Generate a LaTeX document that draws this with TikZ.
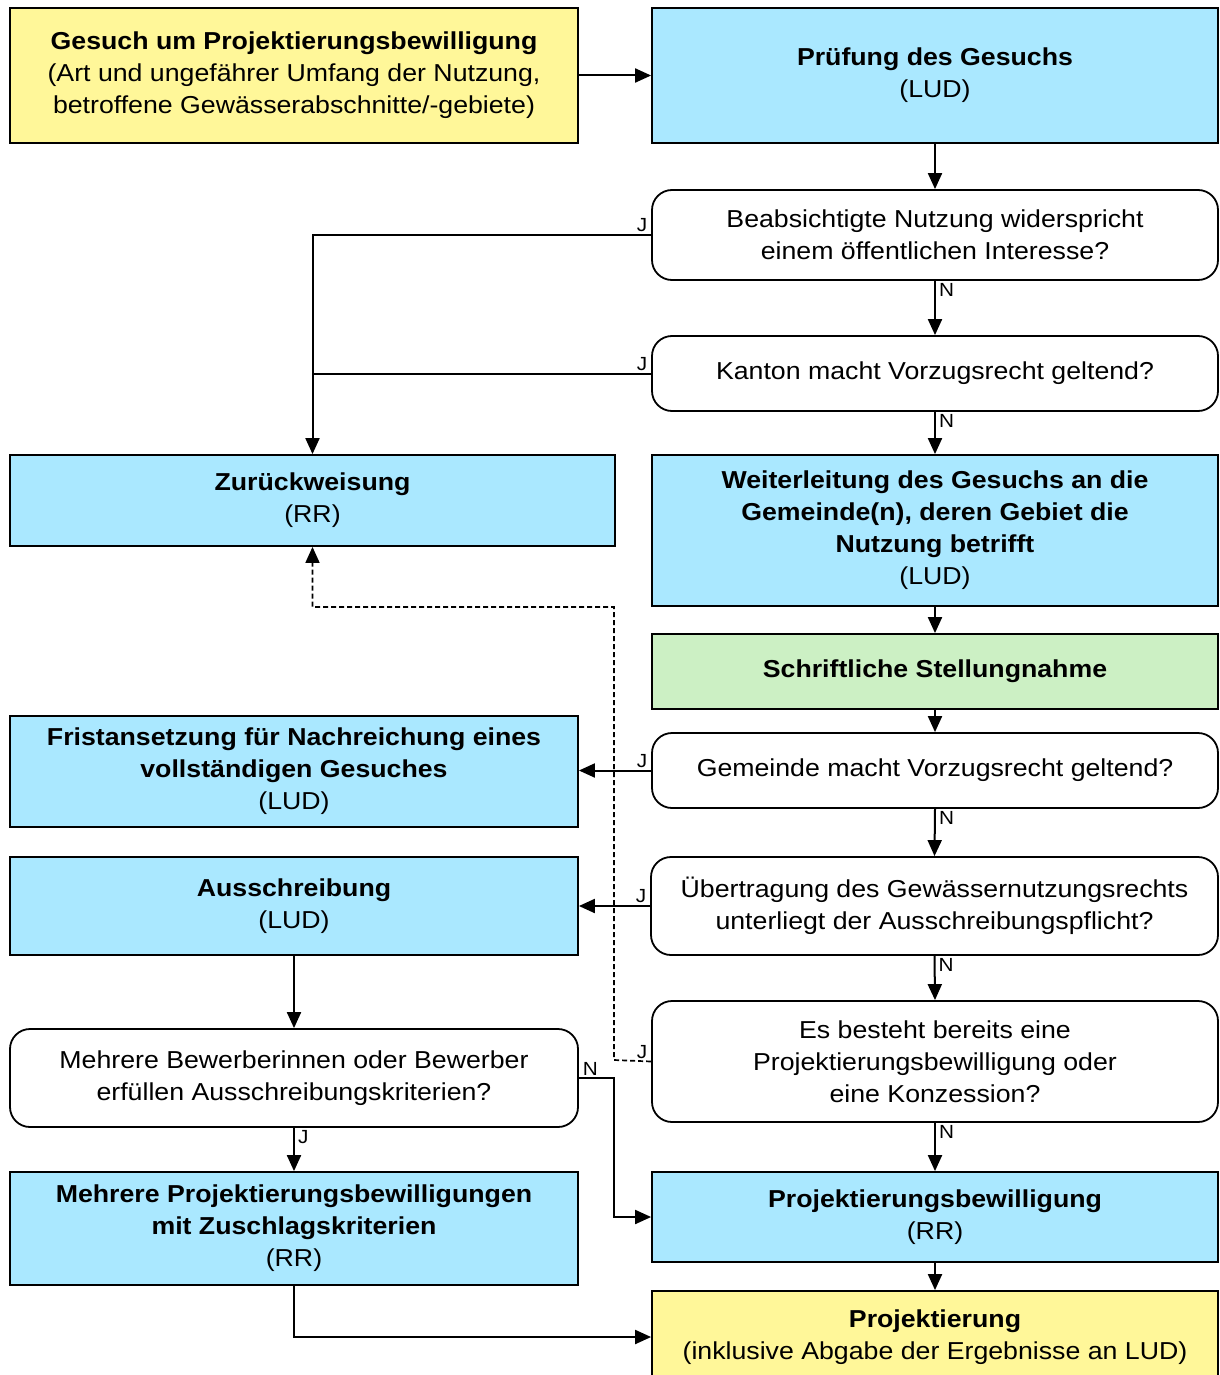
\documentclass[tikz,border=0pt]{standalone}
\usepackage{fontspec}
\setmainfont[FakeStretch=1.09]{Liberation Sans}
\usetikzlibrary{arrows.meta}
\definecolor{cyel}{RGB}{255,247,153}
\definecolor{cblu}{RGB}{170,232,255}
\definecolor{cgrn}{RGB}{204,240,196}
\begin{document}
\begin{tikzpicture}[x=1pt,y=-1pt,
  base/.style={draw=black, line width=1.8pt, align=center, inner sep=0pt,
    font=\fontsize{24.5}{32}\selectfont},
  yelbox/.style={base, fill=cyel},
  blubox/.style={base, fill=cblu},
  grnbox/.style={base, fill=cgrn},
  decbox/.style={base, fill=white, rounded corners=20pt},
  conn/.style={line width=2pt},
  arr/.style={conn, -{Triangle[length=16pt,width=14pt]}},
  lab/.style={font=\fontsize{19}{21}\selectfont, inner sep=2pt}
]
\useasboundingbox (0,0) rectangle (1219,1375);
\begin{scope}
\clip (0,0) rectangle (1219,1375);

\node[yelbox, minimum width=568pt, minimum height=135pt] (A) at (294,75.5)
  {\textbf{Gesuch um Projektierungsbewilligung}\\(Art und ungefährer Umfang der Nutzung,\\betroffene Gewässerabschnitte/-gebiete)};
\node[blubox, minimum width=566pt, minimum height=135pt] (B) at (935,75.5)
  {\textbf{Prüfung des Gesuchs}\\(LUD)};
\node[decbox, minimum width=566pt, minimum height=90pt] (Q1) at (935,235)
  {Beabsichtigte Nutzung widerspricht\\einem öffentlichen Interesse?};
\node[decbox, minimum width=566pt, minimum height=75pt] (Q2) at (935,373.5)
  {Kanton macht Vorzugsrecht geltend?};
\node[blubox, minimum width=605pt, minimum height=91pt] (Z) at (312.5,500.5)
  {\textbf{Zurückweisung}\\(RR)};
\node[blubox, minimum width=566pt, minimum height=151pt] (W) at (935,530.5)
  {\textbf{Weiterleitung des Gesuchs an die}\\\textbf{Gemeinde(n), deren Gebiet die}\\\textbf{Nutzung betrifft}\\(LUD)};
\node[grnbox, minimum width=566pt, minimum height=75pt] (S) at (935,671.5)
  {\textbf{Schriftliche Stellungnahme}};
\node[decbox, minimum width=566pt, minimum height=75pt] (Q3) at (935,770.5)
  {Gemeinde macht Vorzugsrecht geltend?};
\node[blubox, minimum width=568pt, minimum height=111pt] (F) at (294,771.5)
  {\textbf{Fristansetzung für Nachreichung eines}\\\textbf{vollständigen Gesuches}\\(LUD)};
\node[decbox, minimum width=567pt, minimum height=98pt] (Q4) at (934.5,906)
  {Übertragung des Gewässernutzungsrechts\\unterliegt der Ausschreibungspflicht?};
\node[blubox, minimum width=568pt, minimum height=98pt] (AU) at (294,906)
  {\textbf{Ausschreibung}\\(LUD)};
\node[decbox, minimum width=566pt, minimum height=121pt] (Q5) at (935,1061.5)
  {Es besteht bereits eine\\Projektierungsbewilligung oder\\eine Konzession?};
\node[decbox, minimum width=568pt, minimum height=98pt] (Q6) at (294,1078)
  {Mehrere Bewerberinnen oder Bewerber\\erfüllen Ausschreibungskriterien?};
\node[blubox, minimum width=568pt, minimum height=113pt] (MP) at (294,1228.5)
  {\textbf{Mehrere Projektierungsbewilligungen}\\\textbf{mit Zuschlagskriterien}\\(RR)};
\node[blubox, minimum width=566pt, minimum height=90pt] (PB) at (935,1217)
  {\textbf{Projektierungsbewilligung}\\(RR)};
\node[yelbox, minimum width=566pt, minimum height=92pt] (P) at (935,1337)
  {\textbf{Projektierung}\\(inklusive Abgabe der Ergebnisse an LUD)};

% connectors
\draw[arr] (A.east) -- (B.west);
\draw[arr] (B.south) -- (Q1.north);
\draw[arr] (Q1.west) -| node[lab, pos=0, anchor=south east, xshift=-1pt] {J} (Z.north);
\draw[conn] (Q2.west) -- node[lab, pos=0, anchor=south east, xshift=-1pt] {J} (Q2.west -| Z.north);
\draw[arr] (Q1.south) -- node[lab, pos=0, anchor=north west, xshift=1pt] {N} (Q2.north);
\draw[arr] (Q2.south) -- node[lab, pos=0, anchor=north west, xshift=1pt] {N} (W.north);
\draw[arr] (W.south) -- (S.north);
\draw[arr] (S.south) -- (Q3.north);
\draw[arr] (Q3.west) -- node[lab, pos=0, anchor=south east, xshift=-1pt] {J} (Q3.west -| F.east);
\draw[arr] (Q3.south) -- node[lab, pos=0, anchor=north west, xshift=1pt] {N} (Q4.north);
\draw[arr] (Q4.west) -- node[lab, pos=0, anchor=south east, xshift=-1pt] {J} (Q4.west -| AU.east);
\draw[arr] (Q4.south) -- node[lab, pos=0, anchor=north west, xshift=1pt] {N} (Q5.north);
\coordinate (d1) at (614,1060);
\coordinate (d2) at (614,607);
\draw[arr, line width=1.7pt, dash pattern=on 5pt off 3pt] (Q5.west) -- node[lab, pos=0, anchor=south east, xshift=-1pt] {J} (d1) -- (d2) -| (Z.south);
\draw[arr] (Q5.south) -- node[lab, pos=0, anchor=north west, xshift=1pt] {N} (PB.north);
\draw[arr] (AU.south) -- (Q6.north);
\draw[arr] (Q6.south) -- node[lab, pos=0, anchor=north west, xshift=1pt] {J} (MP.north);
\coordinate (n1) at (614,1078);
\draw[arr] (Q6.east) -- node[lab, pos=0, anchor=south west, xshift=1pt] {N} (n1) |- (PB.west);
\draw[arr] (MP.south) |- (P.west);
\draw[arr] (PB.south) -- (P.north);
\end{scope}
\end{tikzpicture}
\end{document}
